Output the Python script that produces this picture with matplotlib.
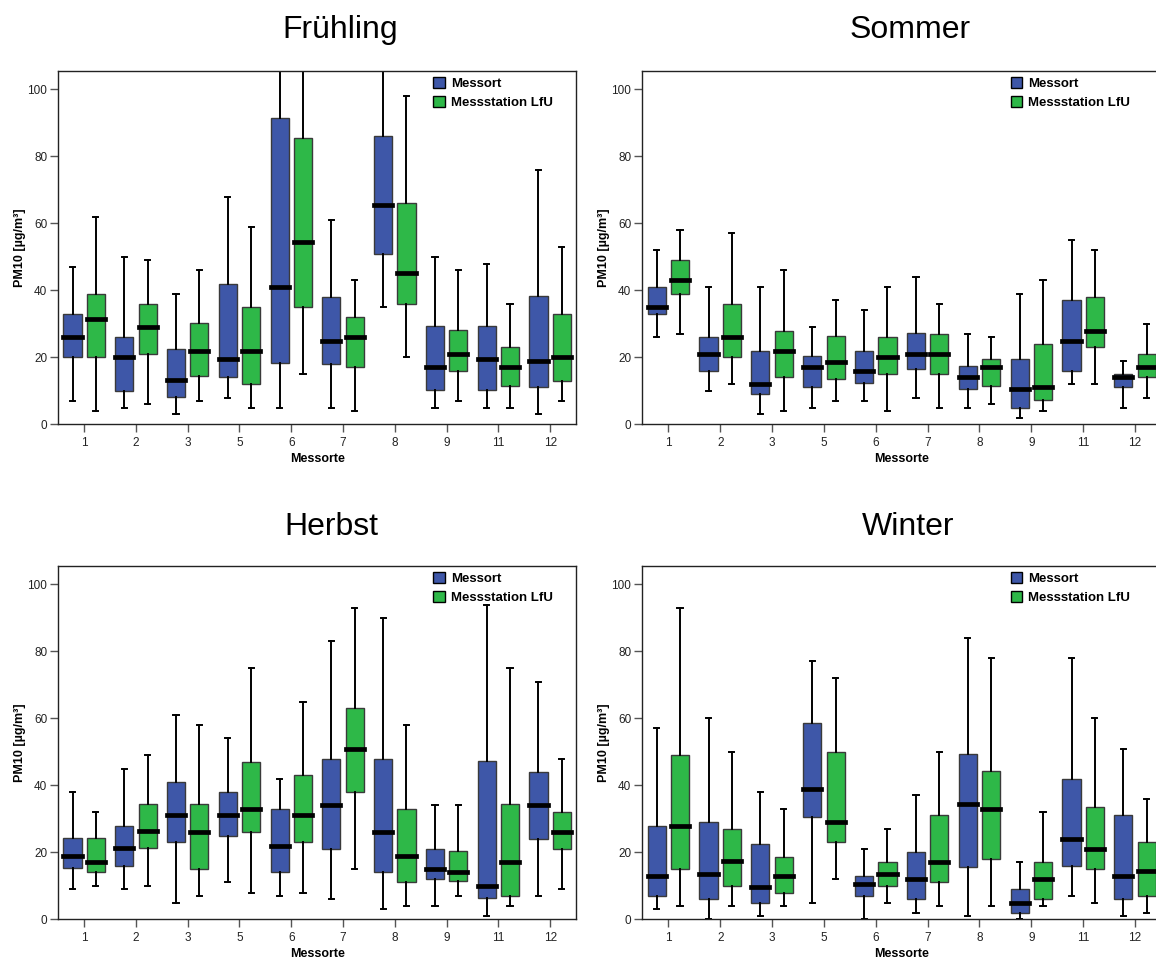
import matplotlib
matplotlib.use("Agg")
import matplotlib.pyplot as plt
from matplotlib.patches import Patch
import numpy as np

plt.rcParams['font.family'] = ['Liberation Sans', 'DejaVu Sans']

sites = ["1", "2", "3", "5", "6", "7", "8", "9", "11", "12"]
seasons = ["Frühling", "Sommer", "Herbst", "Winter"]
series_names = ["Messort", "Messstation LfU"]
colors = ["#3E57A8", "#2EB848"]

# rows: (whisker low, Q1, median, Q3, whisker high) for each site
fruehling_messort = [(7, 20, 26, 33, 47), (5, 10, 20, 26, 50), (3, 8.3, 13.3, 22.4, 39),
                     (8, 14, 19.4, 42, 68), (5, 18.4, 41, 91.6, 108), (5, 18, 25, 38, 61),
                     (35, 51, 65.6, 86, 108), (5, 10.3, 17, 29.3, 50), (5, 10.3, 19.4, 29.3, 48),
                     (3, 11, 19, 38.4, 76)]
fruehling_lfu = [(4, 20, 31.4, 39, 62), (6, 21, 29, 36, 49), (7, 14.4, 22, 30.3, 46),
                 (5, 12, 22, 35, 59), (15, 35, 54.4, 85.6, 108), (4, 17, 26, 32, 43),
                 (20, 36, 45.3, 66.2, 98), (7, 16, 21, 28.3, 46), (5, 11.3, 17, 23, 36),
                 (7, 13, 20, 33, 53)]
sommer_messort = [(26, 33, 35, 41, 52), (10, 16, 21, 26, 41), (3, 9, 12, 22, 41),
                  (5, 11, 17, 20.4, 29), (7, 12.4, 16, 22, 34), (8, 16.4, 21, 27.4, 44),
                  (5, 10.4, 14, 17.5, 27), (2, 5, 10.4, 19.4, 39), (12, 16, 25, 37, 55),
                  (5, 11, 14, 15, 19)]
sommer_lfu = [(27, 39, 43, 49, 58), (12, 20, 26, 36, 57), (4, 14, 22, 28, 46),
              (7, 13.4, 18.5, 26.4, 37), (4, 15, 20, 26, 41), (5, 15, 21, 27, 36),
              (6, 11.4, 17, 19.4, 26), (4, 7.4, 11, 24, 43), (12, 23, 28, 38, 52),
              (8, 14, 17, 21, 30)]
herbst_messort = [(9, 15.4, 19, 24.4, 38), (9, 16, 21.4, 28, 45), (5, 23, 31, 41, 61),
                  (11, 25, 31, 38, 54), (7, 14, 22, 33, 42), (6, 21, 34, 48, 83),
                  (3, 14, 26, 48, 90), (4, 12, 15, 21, 34), (1, 6.5, 10, 47.3, 94),
                  (7, 24, 34, 44, 71)]
herbst_lfu = [(10, 14, 17, 24.4, 32), (10, 21.4, 26.3, 34.4, 49), (7, 15, 26, 34.4, 58),
              (8, 26, 33, 47, 75), (8, 23, 31, 43, 65), (15, 38, 51, 63, 93),
              (4, 11, 19, 33, 58), (7, 11.4, 14, 20.4, 34), (4, 7, 17, 34.4, 75),
              (9, 21, 26, 32, 48)]
winter_messort = [(3, 7, 13, 28, 57), (0, 6, 13.5, 29, 60), (1, 5, 9.5, 22.5, 38),
                  (5, 30.4, 39, 58.7, 77), (0, 7, 10.5, 13, 21), (2, 6, 12, 20, 37),
                  (1, 15.5, 34.5, 49.4, 84), (0, 2, 5, 9, 17), (7, 16, 24, 42, 78),
                  (1, 6, 13, 31, 51)]
winter_lfu = [(4, 15, 28, 49, 93), (4, 10, 17.5, 27, 50), (4, 8, 13, 18.5, 33),
              (12, 23, 29, 50, 72), (5, 10, 13.5, 17, 27), (4, 11, 17, 31, 50),
              (4, 18, 33, 44.3, 78), (4, 6, 12, 17, 32), (5, 15, 21, 33.5, 60),
              (2, 7, 14.5, 23, 36)]

season_data = [(fruehling_messort, fruehling_lfu), (sommer_messort, sommer_lfu),
               (herbst_messort, herbst_lfu), (winter_messort, winter_lfu)]


def to_stats(rows):
    return [dict(whislo=lo, q1=q1, med=med, q3=q3, whishi=hi, fliers=[])
            for lo, q1, med, q3, hi in rows]


W, H = 1156, 961
fig = plt.figure(figsize=(W / 100, H / 100), dpi=100)

# axes rectangles in pixels: left, top, width, height
rects = [(58.3, 71, 517.7, 353.3), (642.4, 71, 518.6, 353.3),
         (58.3, 566, 517.7, 353.3), (642.4, 566, 518.6, 353.3)]
title_pos = [(340, 38), (910, 38), (331, 535), (908, 535)]
legend_x = [0.724, 0.71, 0.724, 0.71]

pos = np.arange(len(sites))
for k, season in enumerate(seasons):
    l, t, w, h = rects[k]
    ax = fig.add_axes([l / W, (H - t - h) / H, w / W, h / H])
    for j, rows in enumerate(season_data[k]):
        offs = -0.225 if j == 0 else 0.225
        ax.bxp(to_stats(rows), positions=pos + offs, widths=0.35, patch_artist=True,
               showfliers=False, capwidths=0.1,
               boxprops=dict(facecolor=colors[j], edgecolor='#3a3a3a', linewidth=1.0),
               medianprops=dict(color='black', linewidth=3.4, solid_capstyle='projecting'),
               whiskerprops=dict(color='black', linewidth=1.4),
               capprops=dict(color='black', linewidth=1.4))
    ax.set_xlim(-0.5, len(sites) - 0.5)
    ax.set_ylim(0, 105.5)
    ax.set_xticks(pos)
    ax.set_xticklabels(sites)
    ax.set_yticks([0, 20, 40, 60, 80, 100])
    ax.tick_params(axis='both', direction='out', length=6, width=1, color='#555555',
                   labelsize=8.5, pad=2, labelcolor='#222222')
    ax.tick_params(axis='x', pad=3.5)
    for sp in ax.spines.values():
        sp.set_linewidth(1.0)
        sp.set_color('#222222')
    ax.set_xlabel("Messorte", fontsize=9, fontweight='bold', labelpad=2.5)
    ax.set_ylabel("PM10 [µg/m³]", fontsize=9, fontweight='bold', labelpad=1)
    handles = [Patch(facecolor=c, edgecolor='black', linewidth=1.0) for c in colors]
    ax.legend(handles, series_names, loc='upper left', bbox_to_anchor=(legend_x[k], 0.984),
              frameon=False, prop=dict(weight='bold', size=9.5), handlelength=0.9,
              handleheight=0.9, handletextpad=0.45, labelspacing=0.45, borderpad=0,
              borderaxespad=0)
    fig.text(title_pos[k][0] / W, 1 - title_pos[k][1] / H, season, ha='center',
             va='baseline', fontsize=23)

fig.savefig("out.png", dpi=100)
